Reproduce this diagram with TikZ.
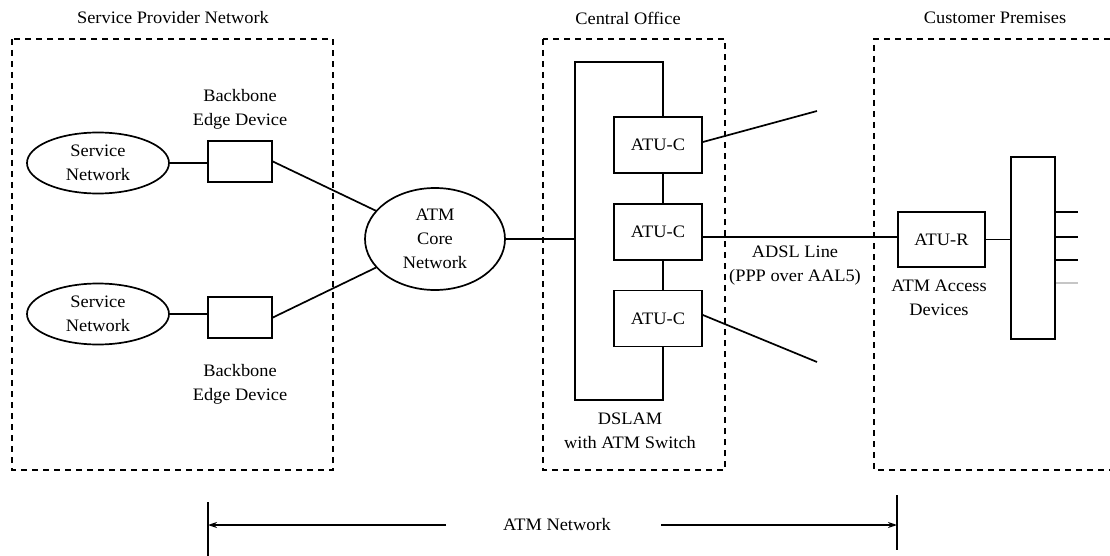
\documentclass[tikz,border=0pt]{standalone}
\usepackage{fontspec}
\setmainfont{Liberation Serif}[FakeStretch=1.05]
\usetikzlibrary{shapes.geometric,arrows.meta}

\begin{document}
\begin{tikzpicture}[x=1pt,y=-1pt,
  every node/.style={font=\fontsize{17.5}{24}\selectfont, align=center, inner sep=0pt},
  link/.style={line width=1.7pt},
  region/.style={line width=1.5pt, dash pattern=on 6pt off 5pt},
  devbox/.style={draw, line width=1.7pt, minimum width=64pt, minimum height=41pt},
  atubox/.style={draw, line width=1.7pt, minimum width=88pt, minimum height=56pt},
  cloud/.style={draw, ellipse, line width=1.7pt, minimum width=142pt, minimum height=61pt},
  span/.style={line width=1.7pt, -{Stealth[length=9pt,width=6pt]}}]

\useasboundingbox (0,0) rectangle (1110,556);

% site boundaries
\draw[region] (12,39) rectangle (333,470);
\draw[region] (543,39) rectangle (725,470);
\draw[region] (1110,39) -| (874,470) -- (1110,470);

\node (tSP) at (173,18) {Service Provider Network};
\node (tCO) at (628,18) {Central Office};
\node (tCP) at (995,18) {Customer Premises};

% service provider side
\node[cloud] (sn1) at (98,163) {Service\\Network};
\node[cloud] (sn2) at (98,314) {Service\\Network};
\node[devbox] (bb1) at (240,161.5) {};
\node[devbox] (bb2) at (240,317.5) {};
\node (bb1lab) at (240,109) {Backbone\\Edge Device};
\node (bb2lab) at (240,384) {Backbone\\Edge Device};

\node[cloud, minimum width=140pt, minimum height=102pt] (core) at (435,239) {ATM\\Core\\Network};

\draw[link] (sn1.east) -- (bb1.west |- sn1.east);
\draw[link] (sn2.east) -- (bb2.west |- sn2.east);
\draw[link] (bb1.east) -- (core);
\draw[link] (bb2.east) -- (core);

% DSLAM with its line cards
\node[atubox] (atu1) at (658,145) {ATU-C};
\node[atubox] (atu2) at (658,232) {ATU-C};
\node[atubox] (atu3) at (658,318.5) {ATU-C};

\coordinate (dsTR) at (663,62);
\coordinate (dsBL) at (575,400);
\draw[link] (atu1.north -| dsTR) -- (dsTR) -| (dsBL) -| (atu3.south -| dsTR);
\draw[link] (atu1.south -| dsTR) -- (atu2.north -| dsTR);
\draw[link] (atu2.south -| dsTR) -- (atu3.north -| dsTR);
\draw[link] (core.east) -- (core.east -| dsBL);

\node (dslab) at (630,431) {DSLAM\\with ATM Switch};

% subscriber loops
\coordinate (loopUp) at (817,111);
\coordinate (loopDn) at (817,362);
\coordinate (lineY) at (0,237);
\draw[link] (atu1.east |- 0,142) -- (loopUp);
\draw[link] (atu3.east |- 0,315) -- (loopDn);

\node[atubox, minimum width=87pt, minimum height=55pt] (atur) at (941.5,239.5) {ATU-R};
\draw[link] (atu2.east |- lineY) -- (atur.west |- lineY);

\node (adsl) at (795,266) {ADSL Line\\(PPP over AAL5)};
\node (acc) at (939,298) {ATM Access\\Devices};

% customer premises equipment
\node[draw, line width=1.7pt, minimum width=44pt, minimum height=182pt] (cpe) at (1033,248) {};
\draw[link] (atur.east) -- (cpe.west |- atur.east);
\coordinate (p1) at (1078,212);
\coordinate (p2) at (1078,237);
\coordinate (p3) at (1078,260);
\coordinate (p4) at (1078,283);
\draw[link] (cpe.east |- p1) -- (p1);
\draw[link] (cpe.east |- p2) -- (p2);
\draw[link] (cpe.east |- p3) -- (p3);
\draw[link, gray!45] (cpe.east |- p4) -- (p4);

% extent of the ATM network
\node (atmnet) at (557,525) {ATM Network};
\coordinate (netL) at (208,525);
\coordinate (netR) at (897,525);
\coordinate (arrL) at (446,525);
\coordinate (arrR) at (661,525);
\draw[link] (208,502) -- (208,556);
\draw[link] (897,495) -- (897,550);
\draw[span] (arrL) -- (netL);
\draw[span] (arrR) -- (netR);
\end{tikzpicture}
\end{document}
